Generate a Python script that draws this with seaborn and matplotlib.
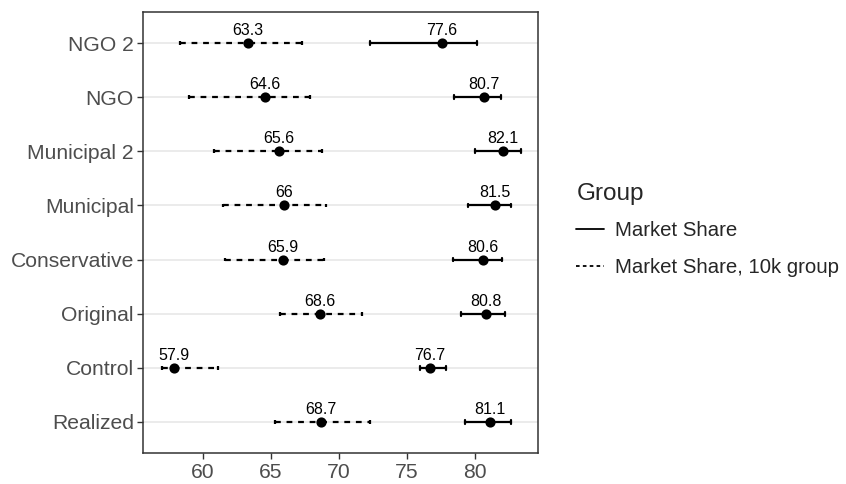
import numpy as np
import pandas as pd
import matplotlib
matplotlib.use("Agg")
import matplotlib.pyplot as plt
from matplotlib.lines import Line2D
import seaborn as sns

# Scenarios, top to bottom
categories = ["NGO 2", "NGO", "Municipal 2", "Municipal",
              "Conservative", "Original", "Control", "Realized"]

# Market share: estimate and interval bounds
share = [77.6, 80.7, 82.1, 81.5, 80.6, 80.8, 76.7, 81.1]
share_lo = [72.3, 78.5, 80.0, 79.5, 78.4, 79.0, 76.0, 79.3]
share_hi = [80.2, 81.9, 83.4, 82.7, 82.0, 82.2, 77.9, 82.7]

# Market share in the 10k group: estimate and interval bounds
share10k = [63.3, 64.6, 65.6, 66.0, 65.9, 68.6, 57.9, 68.7]
share10k_lo = [58.3, 59.0, 60.8, 61.5, 61.6, 65.7, 57.0, 65.3]
share10k_hi = [67.3, 67.9, 68.8, 69.1, 68.9, 71.7, 61.1, 72.3]

groups = ["Market Share", "Market Share, 10k group"]
x_ticks = [60, 65, 70, 75, 80]

sns.set_theme(style="white")
plt.rcParams["font.family"] = ["Liberation Sans", "DejaVu Sans"]


def long_table(est, lo, hi, group):
    rows = []
    for cat, e, l, h in zip(categories, est, lo, hi):
        for kind, v in (("lo", l), ("est", e), ("hi", h)):
            rows.append({"scenario": cat, "value": v, "kind": kind, "group": group})
    return pd.DataFrame(rows)


df_main = long_table(share, share_lo, share_hi, groups[0])
df_10k = long_table(share10k, share10k_lo, share10k_hi, groups[1])


def interval(v):
    return (np.min(v), np.max(v))


fig = plt.figure(figsize=(8.46, 4.84), dpi=100)
ax = fig.add_axes([0.1696, 0.0634, 0.4669, 0.9124])

for y in range(len(categories)):
    ax.axhline(y, color="#EBEBEB", lw=1.4, zorder=0)

for df, ls in ((df_main, "-"), (df_10k, (0, (2.6, 2.6)))):
    sns.pointplot(data=df, x="value", y="scenario", order=categories,
                  estimator="median", errorbar=interval, orient="h",
                  color="black", linestyle="none", marker="o",
                  markersize=5.3, capsize=0.07,
                  err_kws={"linewidth": 1.6, "linestyle": ls, "color": "black"},
                  ax=ax, zorder=3)

# value labels above each point
for vals in (share, share10k):
    for i, v in enumerate(vals):
        ax.annotate(f"{v:g}", xy=(v, i), xytext=(0, 5.8), textcoords="offset points",
                    ha="center", va="baseline", fontsize=11.5, color="black")

ax.set_xlim(55.64, 84.69)
ax.set_ylim(len(categories) - 1 + 0.58, -0.58)
ax.set_xticks(x_ticks)
ax.set_xlabel("")
ax.set_ylabel("")
ax.tick_params(axis="both", which="major", length=4, width=1.0, color="#333333",
               labelsize=15.2, labelcolor="#4D4D4D", pad=3, bottom=True, left=True)
for sp in ax.spines.values():
    sp.set_visible(True)
    sp.set_color("#333333")
    sp.set_linewidth(1.1)
ax.grid(False)

handles = [Line2D([], [], color="black", lw=1.3, linestyle="-"),
           Line2D([], [], color="black", lw=1.3, linestyle=(0, (2, 1.8)))]
leg = fig.legend(handles, groups, title="Group", loc="upper left",
                 bbox_to_anchor=(0.6715, 0.638), frameon=False,
                 fontsize=14.7, title_fontsize=17.5, handlelength=1.35,
                 handletextpad=0.55, labelspacing=0.9, borderaxespad=0)
leg._legend_box.align = "left"
leg._legend_box.sep = 11

fig.savefig("out.png", dpi=100)
